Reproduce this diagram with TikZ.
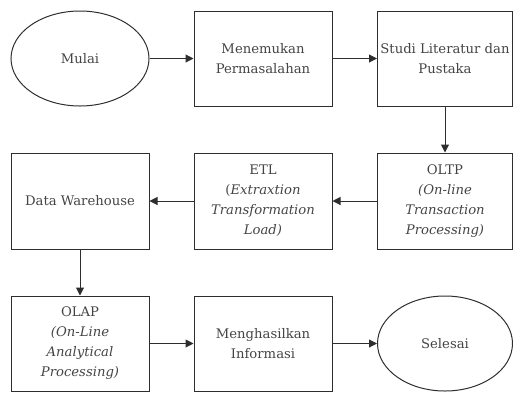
\documentclass[tikz,border=0pt]{standalone}
\usepackage{fontspec}
\setmainfont{DejaVu Serif}
\usetikzlibrary{shapes.geometric,arrows.meta}
\definecolor{linec}{HTML}{2E2E2E}
\definecolor{textc}{HTML}{444444}
\tikzset{
  x=1pt,y=1pt,
  base/.style={draw=linec, line width=1pt, text=textc, align=center, inner sep=0pt,
    font=\fontsize{13.2}{20}\selectfont},
  boxn/.style={base, rectangle, minimum width=138pt, minimum height=95pt},
  ovaln/.style={base, ellipse, minimum width=138pt, minimum height=95pt},
  conn/.style={draw=linec, line width=1pt, -{Triangle[length=8pt,width=8pt]}}
}
\begin{document}
\begin{tikzpicture}
\useasboundingbox (0,0) rectangle (513,-392);
\node[ovaln] (mulai) at (80,-58.5) {Mulai};
\node[boxn] (temu) at (263,-58.5) {Menemukan\\Permasalahan};
\node[boxn, minimum width=135pt] (studi) at (445,-58.5) {Studi Literatur dan\\Pustaka};
\node[boxn, minimum width=135pt, minimum height=96pt] (oltp) at (445,-201) {OLTP\\\textit{(On-line}\\\textit{Transaction}\\\textit{Processing)}};
\node[boxn, minimum height=96pt] (etl) at (263,-201) {ETL\\(\textit{Extraxtion}\\\textit{Transformation}\\\textit{Load)}};
\node[boxn, minimum height=96pt] (dw) at (80,-201) {Data Warehouse};
\node[boxn] (olap) at (80,-343.5) {OLAP\\\textit{(On-Line}\\\textit{Analytical}\\\textit{Processing)}};
\node[boxn] (hasil) at (263,-343.5) {Menghasilkan\\Informasi};
\node[ovaln, minimum width=135pt] (selesai) at (445,-343.5) {Selesai};
\draw[conn] (mulai) -- (temu);
\draw[conn] (temu) -- (studi);
\draw[conn] (studi) -- (oltp);
\draw[conn] (oltp) -- (etl);
\draw[conn] (etl) -- (dw);
\draw[conn] (dw) -- (olap);
\draw[conn] (olap) -- (hasil);
\draw[conn] (hasil) -- (selesai);
\end{tikzpicture}
\end{document}
